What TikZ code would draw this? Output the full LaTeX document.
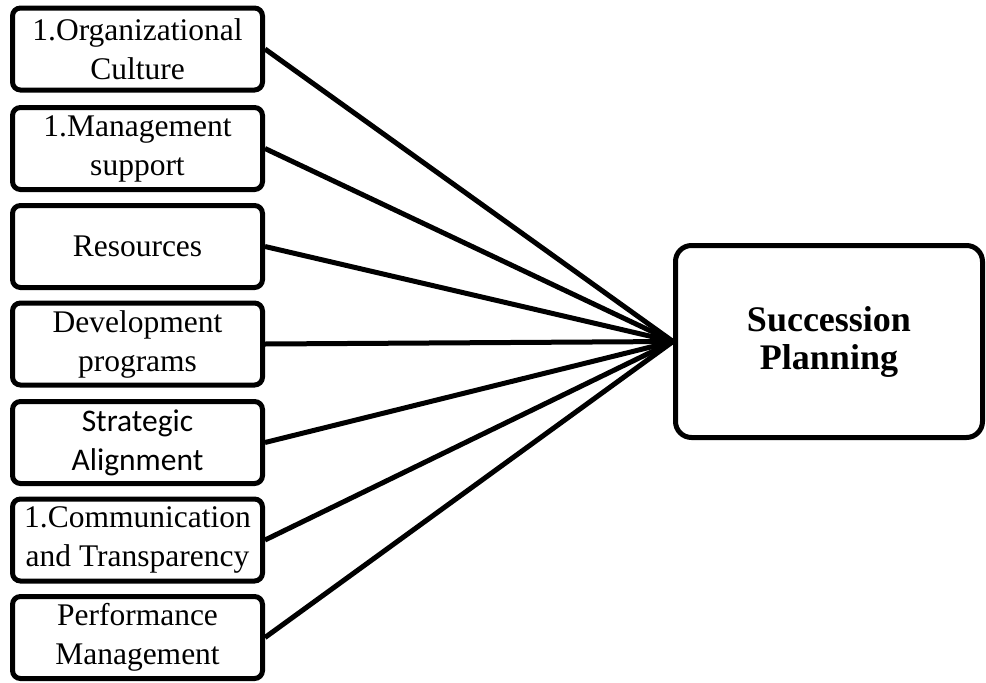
\documentclass[tikz,border=0pt]{standalone}
\usepackage{fontspec}
\setmainfont{Liberation Serif}
\newfontfamily\calibrifont{Carlito}
\begin{document}
\begin{tikzpicture}[
  x=1pt, y=-1pt,
  factor/.style={
    draw, line width=5pt, rounded corners=8pt,
    minimum width=250pt, minimum height=82pt,
    align=center, inner sep=0pt,
    font=\fontsize{31.5}{39}\selectfont
  },
  goalbox/.style={
    draw, line width=5pt, rounded corners=16pt,
    minimum width=307pt, minimum height=192pt,
    align=center,
    font=\fontsize{36}{38}\selectfont\bfseries
  },
  link/.style={line width=5pt}
]
  \useasboundingbox (0,0) rectangle (986,683);
  \node[goalbox] (goal) at (829,341.5){Succession\\Planning};
  \foreach \y/\f/\txt in {
    49/f1/{1.Organizational\\Culture},
    148.5/f2/{1.Management\\support},
    246.5/f3/{Resources},
    344/f4/{Development\\programs},
    442.5/f5/{\calibrifont Strategic\\\calibrifont Alignment},
    540/f6/{1.Communication\\and Transparency},
    637.5/f7/{Performance\\Management}} {
    \node[factor] (\f) at (137.5,\y){\txt};
    \draw[link] (\f.east)--(goal.west);
  }
\end{tikzpicture}
\end{document}
